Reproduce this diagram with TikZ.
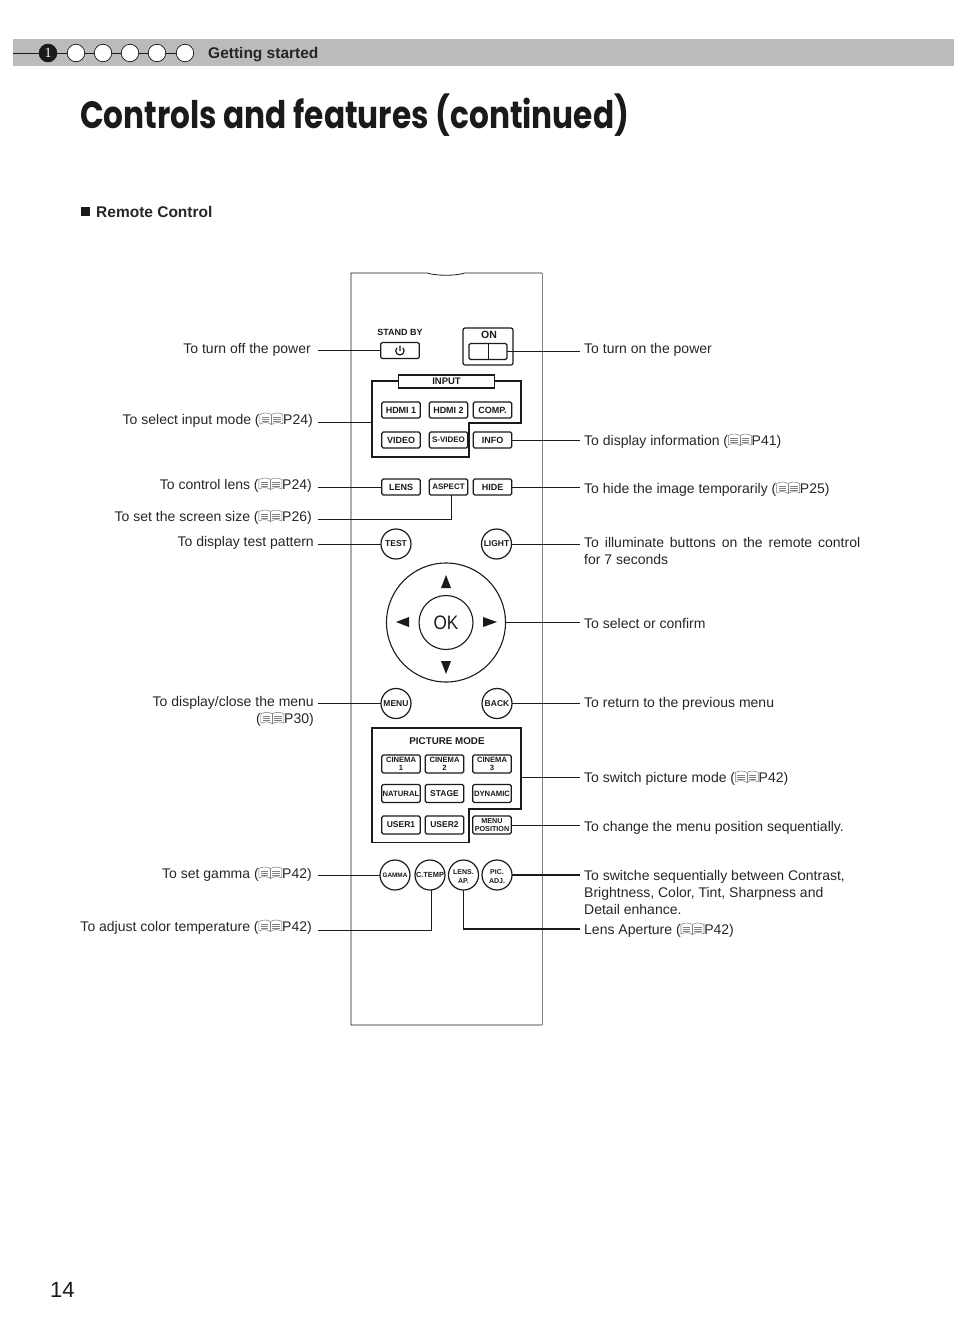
\documentclass[tikz,border=0pt]{standalone}
\usepackage{fontspec}
\setmainfont{Liberation Sans}
\newfontfamily\titlefont{Poppins}
\newfontfamily\numfont{Liberation Serif}
\usepackage{xcolor}
\definecolor{BarGray}{HTML}{BBBBBB}
\definecolor{InkDark}{HTML}{1A1A1A}
\definecolor{TextGray}{HTML}{262626}
\definecolor{IconGray}{HTML}{808080}
\usetikzlibrary{positioning,calc}
\newcommand{\fsz}[1]{\fontsize{#1}{#1}\selectfont}
\newcommand{\refbk}{\tikz[x=1pt,y=1pt,baseline=-1.5pt,line width=.55pt,draw=IconGray]{
  \draw (0,-1.5) -- (0,8) .. controls (4,10) and (8,10) .. (11.5,8) .. controls (15,10) and (19,10) .. (23,8) -- (23,-1.5) .. controls (19,.5) and (15,.5) .. (11.5,-2) .. controls (8,.5) and (4,.5) .. (0,-1.5);
  \draw (11.5,8) -- (11.5,-2);
  \foreach \yy in {1.5,3.5,5.5}{\draw (2,\yy) -- (9.5,\yy); \draw (13.5,\yy) -- (21,\yy);}
}}

\begin{document}
\begin{tikzpicture}[x=1pt,y=-1pt,
  stepdot/.style={draw=InkDark,fill=white,circle,minimum size=17.5pt,inner sep=0pt,line width=.7pt},
  ltxt/.style={anchor=base east,inner sep=0pt,text=TextGray,font=\fsz{14}},
  rtxt/.style={anchor=base west,inner sep=0pt,text=TextGray,font=\fsz{14}},
  btn/.style={draw=InkDark,rounded corners=1.5pt,line width=1.3pt,inner sep=0pt,outer sep=0pt,align=center,minimum width=38.5pt,minimum height=16pt,text=InkDark,font=\bfseries\fsz{9}},
  tallbtn/.style={btn,minimum height=18pt,font=\bfseries\fontsize{7.6}{7.5}\selectfont},
  rndbtn/.style={draw=InkDark,circle,line width=1.2pt,inner sep=0pt,outer sep=0pt,align=center,minimum size=30pt,text=InkDark,font=\bfseries\fsz{8.5}},
  frameline/.style={draw=InkDark,line width=1.6pt,line join=miter},
  lead/.style={draw=InkDark,line width=1pt},
  boldlead/.style={draw=InkDark,line width=1.6pt},
  dirtip/.style={fill=InkDark,draw=none}
]
  \useasboundingbox (0,0) rectangle (954,1339);

  \fill[BarGray] (13,39) rectangle (954,66);
  \coordinate (barstart) at (13,53);
  \foreach \n/\x in {1/48,2/76,3/103,4/130,5/157,6/185}
    \node[stepdot] (dot\n) at (\x,53) {};
  \node[stepdot,fill=InkDark,text=white,font=\numfont\fsz{14}] (dot1) at (48,53) {1};
  \draw[line width=.7pt,InkDark] (barstart) -- (dot1);
  \foreach \n/\m in {1/2,2/3,3/4,4/5,5/6}
    \draw[line width=.7pt,InkDark] (dot\n) -- (dot\m);
  \node[anchor=base west,inner sep=0pt,text=TextGray,font=\bfseries\fsz{15.5}] (chapter) at (208,58) {Getting started};
  \node[anchor=base west,inner sep=0pt,text=InkDark,font=\titlefont\bfseries\fsz{38}] (pagetitle) at (80,128.5) {\scalebox{.82}[1]{Controls and features (continued)}};
  \node[fill=InkDark,minimum size=9pt,inner sep=0pt] (bullet) at (85.5,211.5) {};
  \node[anchor=base west,inner sep=0pt,text=TextGray,font=\bfseries\fsz{15.5}] (section) at (96,217) {Remote Control};
  \node[anchor=base west,inner sep=0pt,text=InkDark,font=\fsz{22}] (pagenum) at (50,1297) {14};

  \draw[InkDark,line width=.8pt] (542,1025) -- (351,1025) -- (351,273) -- (427,273) .. controls (437,276) and (455,276) .. (465,273) -- (542,273);
  \draw[gray,line width=1pt] (542,273) -- (542,1025);

  \coordinate (leadL) at (318,0);
  \coordinate (leadR) at (580,0);

  \node[inner sep=0pt,text=InkDark,font=\bfseries\fsz{9}] (standbytxt) at (400,332) {STAND BY};
  \node[btn] (standby) at (400,350.5) {};
  \draw[line width=1.2pt,InkDark] (400,345.5) -- (400,351) (402.9,347.8) arc[start angle=-45,end angle=225,radius=4.2];
  \node[draw=InkDark,rounded corners=2pt,line width=1.2pt,minimum width=50pt,minimum height=37pt,inner sep=0pt,outer sep=0pt] (onbox) at (488,346.5) {};
  \node[inner sep=0pt,text=InkDark,font=\bfseries\fsz{10.5}] (ontxt) at (489,335) {ON};
  \node[btn,minimum width=38pt] (onsw) at (488,351.5) {};
  \draw[line width=.7pt,InkDark] (onsw.north) -- (onsw.south);

  \draw[frameline] (399,381) -- (372,381) -- (372,457) -- (469,457) -- (469,423) -- (521,423) -- (521,381) -- (495,381);
  \node[frameline,minimum width=96pt,minimum height=13pt,inner sep=0pt,outer sep=0pt,text=InkDark,font=\bfseries\fsz{9.5}] (inputtag) at (446.5,381.5) {INPUT};
  \coordinate (inputframe) at (372,422);
  \coordinate (picframe) at (521,777);
  \node[btn] (hdmione) at (401,410) {HDMI 1};
  \node[btn,right=9pt of hdmione] (hdmitwo) {HDMI 2};
  \node[btn,right=5.5pt of hdmitwo] (comp) {COMP.};
  \node[btn] (video) at (401,440) {VIDEO};
  \node[btn,right=9pt of video,font=\bfseries\fsz{8}] (svideo) {S-VIDEO};
  \node[btn,right=5.5pt of svideo] (info) {INFO};
  \node[btn] (lens) at (401,487) {LENS};
  \node[btn,right=9pt of lens,font=\bfseries\fsz{8}] (aspect) {ASPECT};
  \node[btn,right=5.5pt of aspect] (hide) {HIDE};

  \node[rndbtn] (test) at (396,544) {TEST};
  \node[rndbtn] (light) at (496.5,544) {LIGHT};
  \node[rndbtn,line width=1.1pt,minimum size=119pt] (dpad) at (446,622.5) {};
  \node[rndbtn,line width=1.1pt,minimum size=54pt,font=\fsz{19.5}] (okbtn) at (446,622.5) {\scalebox{.88}[1]{OK}};
  \fill[dirtip] (446,575) -- (451,588) -- (441,588) -- cycle;
  \fill[dirtip] (446,674) -- (451,661) -- (441,661) -- cycle;
  \fill[dirtip] (396,622) -- (409,617) -- (409,627) -- cycle;
  \fill[dirtip] (497,622) -- (483,617) -- (483,627) -- cycle;
  \node[rndbtn] (menu) at (396,703.5) {MENU};
  \node[rndbtn] (back) at (497,703.5) {BACK};

  \draw[frameline] (372,728) -- (521,728) -- (521,809) -- (469,809) -- (469,842.5) -- (372,842.5) -- cycle;
  \node[inner sep=0pt,text=InkDark,font=\bfseries\fsz{9.8}] (picmode) at (447,741.5) {PICTURE MODE};
  \node[tallbtn] (cineone) at (401,764) {CINEMA\\1};
  \node[tallbtn,right=5pt of cineone] (cinetwo) {CINEMA\\2};
  \node[tallbtn,right=9pt of cinetwo] (cinethree) {CINEMA\\3};
  \node[tallbtn,font=\bfseries\fsz{7.7}] (natural) at (401,793.5) {NATURAL};
  \node[tallbtn,right=5pt of natural,font=\bfseries\fsz{8.5}] (stage) {STAGE};
  \node[tallbtn,right=9pt of stage,font=\bfseries\fsz{7.7}] (dynamic) {DYNAMIC};
  \node[tallbtn,font=\bfseries\fsz{8.5}] (userone) at (401,825) {USER1};
  \node[tallbtn,right=5pt of userone,font=\bfseries\fsz{8.5}] (usertwo) {USER2};
  \node[tallbtn,right=9pt of usertwo,font=\bfseries\fontsize{7.2}{7.5}\selectfont] (menupos) {MENU\\POSITION};
  \node[rndbtn,font=\bfseries\fsz{6.4}] (gamma) at (395,875) {GAMMA};
  \node[rndbtn,font=\bfseries\fsz{7.4}] (ctemp) at (430,875) {C.TEMP};
  \node[rndbtn,font=\bfseries\fontsize{7}{9}\selectfont] (lensap) at (463.5,875) {\rule{0pt}{8pt}LENS.\\AP.};
  \node[rndbtn,font=\bfseries\fontsize{7}{9}\selectfont] (picadj) at (497,875) {\rule{0pt}{8pt}PIC.\\ADJ.};

  \node[ltxt] (txtoff) at (311,353) {To turn off the power};
  \node[ltxt] (txtinput) at (313,424) {To select input mode (\refbk P24)};
  \node[ltxt] (txtlens) at (312,489) {To control lens (\refbk P24)};
  \node[ltxt] (txtscreen) at (312,521) {To set the screen size (\refbk P26)};
  \node[ltxt] (txttest) at (314,546) {To display test pattern};
  \node[ltxt,anchor=north east,align=right,font=\fontsize{14}{17}\selectfont] (txtmenu) at (314,696) {To display/close the menu\\(\refbk P30)};
  \node[ltxt] (txtgamma) at (312,878) {To set gamma (\refbk P42)};
  \node[ltxt] (txtctemp) at (312,931) {To adjust color temperature (\refbk P42)};

  \node[rtxt] (txton) at (584,353) {To turn on the power};
  \node[rtxt] (txtinfo) at (584,445) {To display information (\refbk P41)};
  \node[rtxt] (txthide) at (584,493) {To hide the image temporarily (\refbk P25)};
  \node[rtxt,anchor=north west,align=left,font=\fontsize{14}{17}\selectfont] (txtlight) at (584,537) {\makebox[276pt][s]{To illuminate buttons on the remote control}\\for 7 seconds};
  \node[rtxt] (txtok) at (584,628) {To select or confirm};
  \node[rtxt] (txtback) at (584,707) {To return to the previous menu};
  \node[rtxt] (txtpic) at (584,782) {To switch picture mode (\refbk P42)};
  \node[rtxt] (txtmpos) at (584,831) {To change the menu position sequentially.};
  \node[rtxt,anchor=north west,align=left,font=\fontsize{14}{17}\selectfont] (txtadj) at (584,870) {To switche sequentially between Contrast,\\Brightness, Color, Tint, Sharpness and\\Detail enhance.};
  \node[rtxt] (txtap) at (584,934) {Lens Aperture (\refbk P42)};

  \coordinate (aspectend) at (318,519);
  \coordinate (ctempend) at (318,930);
  \coordinate (lensapend) at (580,929);
  \draw[lead] (standby.west) -- (leadL |- standby.west);
  \draw[lead] (onsw.east) -- (leadR |- onsw.east);
  \draw[lead] (inputframe) -- (leadL |- inputframe);
  \draw[lead] (info.east) -- (leadR |- info.east);
  \draw[lead] (lens.west) -- (leadL |- lens.west);
  \draw[lead] (hide.east) -- (leadR |- hide.east);
  \draw[lead] ([xshift=3pt]aspect.south) |- (aspectend);
  \draw[lead] (test.west) -- (leadL |- test.west);
  \draw[lead] (light.east) -- (leadR |- light.east);
  \draw[lead] (dpad.east) -- (leadR |- dpad.east);
  \draw[lead] (menu.west) -- (leadL |- menu.west);
  \draw[lead] (back.east) -- (leadR |- back.east);
  \draw[lead] (picframe) -- (leadR |- picframe);
  \draw[lead] (menupos.east) -- (leadR |- menupos.east);
  \draw[lead] (gamma.west) -- (leadL |- gamma.west);
  \draw[boldlead] (picadj.east) -- (leadR |- picadj.east);
  \draw[lead] ([xshift=1pt]ctemp.south) |- (ctempend);
  \draw[boldlead] (lensap.south) |- (lensapend);
\end{tikzpicture}
\end{document}
